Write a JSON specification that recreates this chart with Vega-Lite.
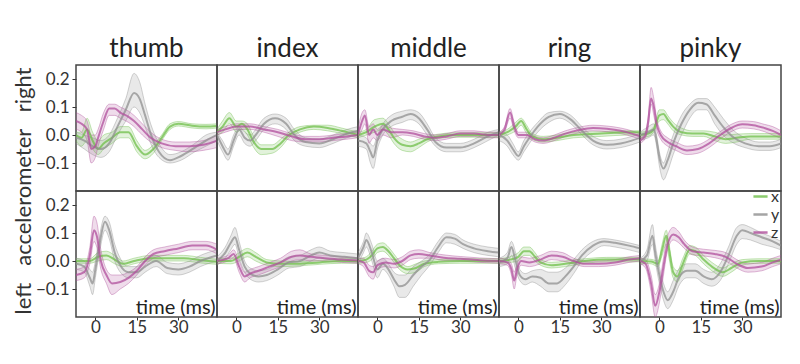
{
"$schema":"https://vega.github.io/schema/vega-lite/v6.json",
"background":"white",
"padding":{"left":12,"top":36,"right":5,"bottom":5},
"bounds":"flush",
"data":{"values":[
{"f":"thumb","r":"right","a":"x","t":-7,"l":-0.02,"v":0,"h":0.01},
{"f":"thumb","r":"right","a":"x","t":-5,"l":-0.04,"v":-0.01,"h":0.01},
{"f":"thumb","r":"right","a":"x","t":-3,"l":-0.02,"v":0.02,"h":0.06},
{"f":"thumb","r":"right","a":"x","t":-1,"l":-0.05,"v":-0.02,"h":0.01},
{"f":"thumb","r":"right","a":"x","t":1,"l":-0.07,"v":-0.05,"h":-0.02},
{"f":"thumb","r":"right","a":"x","t":3,"l":-0.05,"v":-0.03,"h":0},
{"f":"thumb","r":"right","a":"x","t":6,"l":-0.03,"v":-0.01,"h":0.01},
{"f":"thumb","r":"right","a":"x","t":9,"l":-0.01,"v":0.01,"h":0.03},
{"f":"thumb","r":"right","a":"x","t":12,"l":-0.01,"v":0.01,"h":0.03},
{"f":"thumb","r":"right","a":"x","t":15,"l":-0.06,"v":-0.04,"h":-0.02},
{"f":"thumb","r":"right","a":"x","t":18,"l":-0.085,"v":-0.07,"h":-0.055},
{"f":"thumb","r":"right","a":"x","t":21,"l":-0.065,"v":-0.05,"h":-0.035},
{"f":"thumb","r":"right","a":"x","t":24,"l":-0.02,"v":-0.01,"h":0},
{"f":"thumb","r":"right","a":"x","t":27,"l":0.02,"v":0.03,"h":0.04},
{"f":"thumb","r":"right","a":"x","t":30,"l":0.032,"v":0.04,"h":0.048},
{"f":"thumb","r":"right","a":"x","t":35,"l":0.025,"v":0.033,"h":0.04},
{"f":"thumb","r":"right","a":"x","t":40,"l":0.022,"v":0.03,"h":0.038},
{"f":"thumb","r":"right","a":"x","t":44,"l":0.025,"v":0.032,"h":0.04},
{"f":"thumb","r":"right","a":"y","t":-7,"l":-0.03,"v":-0.01,"h":0.01},
{"f":"thumb","r":"right","a":"y","t":-4,"l":-0.05,"v":-0.02,"h":0},
{"f":"thumb","r":"right","a":"y","t":-1,"l":-0.07,"v":-0.04,"h":-0.01},
{"f":"thumb","r":"right","a":"y","t":2,"l":-0.08,"v":-0.05,"h":-0.02},
{"f":"thumb","r":"right","a":"y","t":5,"l":-0.06,"v":-0.03,"h":0},
{"f":"thumb","r":"right","a":"y","t":8,"l":0,"v":0.03,"h":0.06},
{"f":"thumb","r":"right","a":"y","t":11,"l":0.05,"v":0.09,"h":0.13},
{"f":"thumb","r":"right","a":"y","t":14,"l":0.1,"v":0.15,"h":0.22},
{"f":"thumb","r":"right","a":"y","t":16,"l":0.08,"v":0.13,"h":0.19},
{"f":"thumb","r":"right","a":"y","t":18,"l":0.03,"v":0.07,"h":0.11},
{"f":"thumb","r":"right","a":"y","t":20,"l":-0.03,"v":0.005,"h":0.04},
{"f":"thumb","r":"right","a":"y","t":23,"l":-0.08,"v":-0.06,"h":-0.03},
{"f":"thumb","r":"right","a":"y","t":27,"l":-0.1,"v":-0.09,"h":-0.07},
{"f":"thumb","r":"right","a":"y","t":31,"l":-0.09,"v":-0.075,"h":-0.06},
{"f":"thumb","r":"right","a":"y","t":36,"l":-0.06,"v":-0.045,"h":-0.03},
{"f":"thumb","r":"right","a":"y","t":40,"l":-0.04,"v":-0.02,"h":0},
{"f":"thumb","r":"right","a":"y","t":44,"l":-0.02,"v":0,"h":0.01},
{"f":"thumb","r":"right","a":"z","t":-7,"l":0.02,"v":0.05,"h":0.08},
{"f":"thumb","r":"right","a":"z","t":-5,"l":0.01,"v":0.04,"h":0.07},
{"f":"thumb","r":"right","a":"z","t":-3,"l":-0.02,"v":0.02,"h":0.05},
{"f":"thumb","r":"right","a":"z","t":-1.5,"l":-0.1,"v":-0.05,"h":0},
{"f":"thumb","r":"right","a":"z","t":0,"l":-0.08,"v":-0.04,"h":0},
{"f":"thumb","r":"right","a":"z","t":1,"l":-0.04,"v":-0.01,"h":0.02},
{"f":"thumb","r":"right","a":"z","t":3,"l":0.02,"v":0.05,"h":0.08},
{"f":"thumb","r":"right","a":"z","t":5,"l":0.07,"v":0.095,"h":0.11},
{"f":"thumb","r":"right","a":"z","t":7,"l":0.07,"v":0.095,"h":0.11},
{"f":"thumb","r":"right","a":"z","t":9,"l":0.06,"v":0.08,"h":0.1},
{"f":"thumb","r":"right","a":"z","t":12,"l":0.045,"v":0.065,"h":0.085},
{"f":"thumb","r":"right","a":"z","t":14,"l":0.03,"v":0.05,"h":0.07},
{"f":"thumb","r":"right","a":"z","t":17,"l":0,"v":0.02,"h":0.04},
{"f":"thumb","r":"right","a":"z","t":20,"l":-0.025,"v":-0.01,"h":0.01},
{"f":"thumb","r":"right","a":"z","t":24,"l":-0.045,"v":-0.03,"h":-0.015},
{"f":"thumb","r":"right","a":"z","t":29,"l":-0.055,"v":-0.04,"h":-0.025},
{"f":"thumb","r":"right","a":"z","t":34,"l":-0.06,"v":-0.04,"h":-0.025},
{"f":"thumb","r":"right","a":"z","t":39,"l":-0.055,"v":-0.035,"h":-0.02},
{"f":"thumb","r":"right","a":"z","t":44,"l":-0.045,"v":-0.02,"h":0},
{"f":"index","r":"right","a":"x","t":-7,"l":0,"v":0.01,"h":0.02},
{"f":"index","r":"right","a":"x","t":-5,"l":0.01,"v":0.03,"h":0.05},
{"f":"index","r":"right","a":"x","t":-2.5,"l":0.04,"v":0.06,"h":0.08},
{"f":"index","r":"right","a":"x","t":0,"l":0.01,"v":0.03,"h":0.05},
{"f":"index","r":"right","a":"x","t":2,"l":0.02,"v":0.04,"h":0.05},
{"f":"index","r":"right","a":"x","t":4,"l":0,"v":0.02,"h":0.04},
{"f":"index","r":"right","a":"x","t":6,"l":-0.04,"v":-0.02,"h":0},
{"f":"index","r":"right","a":"x","t":9,"l":-0.07,"v":-0.05,"h":-0.035},
{"f":"index","r":"right","a":"x","t":13,"l":-0.065,"v":-0.05,"h":-0.035},
{"f":"index","r":"right","a":"x","t":16,"l":-0.045,"v":-0.03,"h":-0.015},
{"f":"index","r":"right","a":"x","t":19,"l":-0.01,"v":0,"h":0.01},
{"f":"index","r":"right","a":"x","t":23,"l":0.01,"v":0.02,"h":0.03},
{"f":"index","r":"right","a":"x","t":28,"l":0.02,"v":0.03,"h":0.035},
{"f":"index","r":"right","a":"x","t":33,"l":0.015,"v":0.025,"h":0.035},
{"f":"index","r":"right","a":"x","t":38,"l":0.005,"v":0.015,"h":0.025},
{"f":"index","r":"right","a":"x","t":44,"l":-0.01,"v":0,"h":0.01},
{"f":"index","r":"right","a":"y","t":-7,"l":-0.02,"v":0,"h":0.01},
{"f":"index","r":"right","a":"y","t":-5,"l":-0.06,"v":-0.04,"h":-0.02},
{"f":"index","r":"right","a":"y","t":-3,"l":-0.09,"v":-0.07,"h":-0.05},
{"f":"index","r":"right","a":"y","t":-1,"l":-0.04,"v":-0.02,"h":0},
{"f":"index","r":"right","a":"y","t":1,"l":0,"v":0.02,"h":0.03},
{"f":"index","r":"right","a":"y","t":3,"l":-0.03,"v":-0.01,"h":0.01},
{"f":"index","r":"right","a":"y","t":5,"l":-0.04,"v":-0.02,"h":0},
{"f":"index","r":"right","a":"y","t":7,"l":-0.02,"v":0,"h":0.02},
{"f":"index","r":"right","a":"y","t":10,"l":0.02,"v":0.04,"h":0.06},
{"f":"index","r":"right","a":"y","t":14,"l":0.04,"v":0.06,"h":0.075},
{"f":"index","r":"right","a":"y","t":18,"l":0.02,"v":0.04,"h":0.06},
{"f":"index","r":"right","a":"y","t":21,"l":-0.02,"v":0,"h":0.02},
{"f":"index","r":"right","a":"y","t":25,"l":-0.04,"v":-0.025,"h":-0.01},
{"f":"index","r":"right","a":"y","t":30,"l":-0.045,"v":-0.03,"h":-0.015},
{"f":"index","r":"right","a":"y","t":35,"l":-0.03,"v":-0.015,"h":0},
{"f":"index","r":"right","a":"y","t":40,"l":-0.01,"v":0.005,"h":0.02},
{"f":"index","r":"right","a":"y","t":44,"l":0,"v":0.015,"h":0.03},
{"f":"index","r":"right","a":"z","t":-7,"l":0,"v":0.01,"h":0.02},
{"f":"index","r":"right","a":"z","t":-4,"l":0.01,"v":0.02,"h":0.03},
{"f":"index","r":"right","a":"z","t":0,"l":0.02,"v":0.03,"h":0.04},
{"f":"index","r":"right","a":"z","t":5,"l":0.02,"v":0.03,"h":0.04},
{"f":"index","r":"right","a":"z","t":10,"l":0.01,"v":0.02,"h":0.03},
{"f":"index","r":"right","a":"z","t":15,"l":-0.005,"v":0.01,"h":0.02},
{"f":"index","r":"right","a":"z","t":20,"l":-0.02,"v":-0.005,"h":0.005},
{"f":"index","r":"right","a":"z","t":25,"l":-0.025,"v":-0.015,"h":-0.005},
{"f":"index","r":"right","a":"z","t":30,"l":-0.025,"v":-0.015,"h":-0.005},
{"f":"index","r":"right","a":"z","t":35,"l":-0.02,"v":-0.01,"h":0},
{"f":"index","r":"right","a":"z","t":40,"l":-0.015,"v":-0.005,"h":0.005},
{"f":"index","r":"right","a":"z","t":44,"l":-0.01,"v":0,"h":0.01},
{"f":"middle","r":"right","a":"x","t":-7,"l":-0.01,"v":0,"h":0.01},
{"f":"middle","r":"right","a":"x","t":-4,"l":0,"v":0.01,"h":0.02},
{"f":"middle","r":"right","a":"x","t":-1,"l":0.01,"v":0.03,"h":0.055},
{"f":"middle","r":"right","a":"x","t":2,"l":0.02,"v":0.04,"h":0.06},
{"f":"middle","r":"right","a":"x","t":4,"l":0,"v":0.02,"h":0.04},
{"f":"middle","r":"right","a":"x","t":6,"l":-0.03,"v":-0.01,"h":0.01},
{"f":"middle","r":"right","a":"x","t":9,"l":-0.055,"v":-0.035,"h":-0.015},
{"f":"middle","r":"right","a":"x","t":12,"l":-0.06,"v":-0.04,"h":-0.025},
{"f":"middle","r":"right","a":"x","t":15,"l":-0.045,"v":-0.03,"h":-0.015},
{"f":"middle","r":"right","a":"x","t":18,"l":-0.025,"v":-0.015,"h":-0.005},
{"f":"middle","r":"right","a":"x","t":22,"l":-0.012,"v":-0.005,"h":0.003},
{"f":"middle","r":"right","a":"x","t":28,"l":-0.008,"v":0,"h":0.008},
{"f":"middle","r":"right","a":"x","t":35,"l":-0.008,"v":0,"h":0.008},
{"f":"middle","r":"right","a":"x","t":44,"l":-0.008,"v":0,"h":0.008},
{"f":"middle","r":"right","a":"y","t":-7,"l":-0.04,"v":-0.02,"h":0},
{"f":"middle","r":"right","a":"y","t":-4,"l":-0.05,"v":-0.03,"h":-0.01},
{"f":"middle","r":"right","a":"y","t":-2.5,"l":-0.1,"v":-0.06,"h":-0.03},
{"f":"middle","r":"right","a":"y","t":-1.5,"l":-0.12,"v":-0.08,"h":-0.04},
{"f":"middle","r":"right","a":"y","t":0,"l":-0.05,"v":-0.02,"h":0},
{"f":"middle","r":"right","a":"y","t":2,"l":0,"v":0.02,"h":0.04},
{"f":"middle","r":"right","a":"y","t":5,"l":0.03,"v":0.05,"h":0.07},
{"f":"middle","r":"right","a":"y","t":9,"l":0.045,"v":0.065,"h":0.085},
{"f":"middle","r":"right","a":"y","t":12,"l":0.055,"v":0.075,"h":0.09},
{"f":"middle","r":"right","a":"y","t":15,"l":0.04,"v":0.06,"h":0.08},
{"f":"middle","r":"right","a":"y","t":18,"l":0,"v":0.02,"h":0.04},
{"f":"middle","r":"right","a":"y","t":21,"l":-0.04,"v":-0.025,"h":-0.01},
{"f":"middle","r":"right","a":"y","t":25,"l":-0.06,"v":-0.045,"h":-0.03},
{"f":"middle","r":"right","a":"y","t":30,"l":-0.06,"v":-0.045,"h":-0.03},
{"f":"middle","r":"right","a":"y","t":35,"l":-0.045,"v":-0.03,"h":-0.015},
{"f":"middle","r":"right","a":"y","t":40,"l":-0.02,"v":-0.005,"h":0.01},
{"f":"middle","r":"right","a":"y","t":44,"l":0,"v":0.01,"h":0.02},
{"f":"middle","r":"right","a":"z","t":-7,"l":-0.01,"v":0,"h":0.02},
{"f":"middle","r":"right","a":"z","t":-5.5,"l":0.02,"v":0.05,"h":0.08},
{"f":"middle","r":"right","a":"z","t":-4.5,"l":0.04,"v":0.07,"h":0.09},
{"f":"middle","r":"right","a":"z","t":-3,"l":-0.03,"v":0,"h":0.03},
{"f":"middle","r":"right","a":"z","t":-1.5,"l":-0.01,"v":0.02,"h":0.04},
{"f":"middle","r":"right","a":"z","t":0,"l":-0.02,"v":0,"h":0.02},
{"f":"middle","r":"right","a":"z","t":2,"l":0,"v":0.02,"h":0.035},
{"f":"middle","r":"right","a":"z","t":5,"l":-0.01,"v":0.01,"h":0.025},
{"f":"middle","r":"right","a":"z","t":9,"l":0,"v":0.01,"h":0.02},
{"f":"middle","r":"right","a":"z","t":13,"l":-0.005,"v":0.005,"h":0.015},
{"f":"middle","r":"right","a":"z","t":17,"l":-0.015,"v":-0.005,"h":0.005},
{"f":"middle","r":"right","a":"z","t":21,"l":-0.02,"v":-0.01,"h":0},
{"f":"middle","r":"right","a":"z","t":25,"l":-0.015,"v":-0.005,"h":0.005},
{"f":"middle","r":"right","a":"z","t":30,"l":-0.005,"v":0.005,"h":0.015},
{"f":"middle","r":"right","a":"z","t":35,"l":-0.005,"v":0.005,"h":0.015},
{"f":"middle","r":"right","a":"z","t":40,"l":-0.01,"v":0,"h":0.01},
{"f":"middle","r":"right","a":"z","t":44,"l":-0.01,"v":0,"h":0.01},
{"f":"ring","r":"right","a":"x","t":-7,"l":-0.01,"v":0,"h":0.01},
{"f":"ring","r":"right","a":"x","t":-4,"l":0,"v":0.01,"h":0.02},
{"f":"ring","r":"right","a":"x","t":-1,"l":0.015,"v":0.03,"h":0.045},
{"f":"ring","r":"right","a":"x","t":1,"l":0.035,"v":0.05,"h":0.06},
{"f":"ring","r":"right","a":"x","t":3,"l":0.005,"v":0.02,"h":0.035},
{"f":"ring","r":"right","a":"x","t":5,"l":-0.015,"v":-0.005,"h":0.005},
{"f":"ring","r":"right","a":"x","t":9,"l":-0.025,"v":-0.015,"h":-0.005},
{"f":"ring","r":"right","a":"x","t":14,"l":-0.02,"v":-0.01,"h":0},
{"f":"ring","r":"right","a":"x","t":20,"l":-0.01,"v":0,"h":0.01},
{"f":"ring","r":"right","a":"x","t":30,"l":-0.005,"v":0.005,"h":0.012},
{"f":"ring","r":"right","a":"x","t":40,"l":0,"v":0.01,"h":0.015},
{"f":"ring","r":"right","a":"x","t":44,"l":0,"v":0.01,"h":0.015},
{"f":"ring","r":"right","a":"y","t":-7,"l":-0.02,"v":0,"h":0.01},
{"f":"ring","r":"right","a":"y","t":-4,"l":-0.04,"v":-0.02,"h":0},
{"f":"ring","r":"right","a":"y","t":-2,"l":-0.07,"v":-0.05,"h":-0.03},
{"f":"ring","r":"right","a":"y","t":0,"l":-0.09,"v":-0.075,"h":-0.06},
{"f":"ring","r":"right","a":"y","t":2,"l":-0.06,"v":-0.04,"h":-0.02},
{"f":"ring","r":"right","a":"y","t":4,"l":-0.03,"v":-0.01,"h":0.01},
{"f":"ring","r":"right","a":"y","t":7,"l":0.01,"v":0.03,"h":0.045},
{"f":"ring","r":"right","a":"y","t":11,"l":0.045,"v":0.065,"h":0.08},
{"f":"ring","r":"right","a":"y","t":15,"l":0.06,"v":0.075,"h":0.085},
{"f":"ring","r":"right","a":"y","t":19,"l":0.04,"v":0.055,"h":0.07},
{"f":"ring","r":"right","a":"y","t":23,"l":0,"v":0.015,"h":0.03},
{"f":"ring","r":"right","a":"y","t":27,"l":-0.035,"v":-0.02,"h":-0.005},
{"f":"ring","r":"right","a":"y","t":32,"l":-0.05,"v":-0.035,"h":-0.02},
{"f":"ring","r":"right","a":"y","t":37,"l":-0.045,"v":-0.03,"h":-0.015},
{"f":"ring","r":"right","a":"y","t":41,"l":-0.035,"v":-0.02,"h":-0.005},
{"f":"ring","r":"right","a":"y","t":44,"l":-0.025,"v":-0.01,"h":0.005},
{"f":"ring","r":"right","a":"z","t":-7,"l":-0.01,"v":0,"h":0.01},
{"f":"ring","r":"right","a":"z","t":-5,"l":0.01,"v":0.02,"h":0.03},
{"f":"ring","r":"right","a":"z","t":-3,"l":0.06,"v":0.08,"h":0.095},
{"f":"ring","r":"right","a":"z","t":-1.5,"l":0.015,"v":0.03,"h":0.045},
{"f":"ring","r":"right","a":"z","t":0,"l":-0.01,"v":0,"h":0.01},
{"f":"ring","r":"right","a":"z","t":3,"l":-0.01,"v":0,"h":0.01},
{"f":"ring","r":"right","a":"z","t":6,"l":-0.025,"v":-0.015,"h":-0.005},
{"f":"ring","r":"right","a":"z","t":9,"l":-0.03,"v":-0.02,"h":-0.01},
{"f":"ring","r":"right","a":"z","t":13,"l":-0.02,"v":-0.01,"h":0},
{"f":"ring","r":"right","a":"z","t":17,"l":-0.005,"v":0.005,"h":0.015},
{"f":"ring","r":"right","a":"z","t":22,"l":0.008,"v":0.018,"h":0.028},
{"f":"ring","r":"right","a":"z","t":27,"l":0.015,"v":0.025,"h":0.035},
{"f":"ring","r":"right","a":"z","t":32,"l":0.012,"v":0.022,"h":0.032},
{"f":"ring","r":"right","a":"z","t":37,"l":0.005,"v":0.015,"h":0.025},
{"f":"ring","r":"right","a":"z","t":41,"l":-0.005,"v":0.005,"h":0.015},
{"f":"ring","r":"right","a":"z","t":44,"l":-0.015,"v":-0.005,"h":0.005},
{"f":"pinky","r":"right","a":"x","t":-7,"l":-0.01,"v":0,"h":0.01},
{"f":"pinky","r":"right","a":"x","t":-4,"l":-0.005,"v":0.005,"h":0.015},
{"f":"pinky","r":"right","a":"x","t":-2,"l":0.01,"v":0.02,"h":0.03},
{"f":"pinky","r":"right","a":"x","t":0,"l":0.05,"v":0.07,"h":0.09},
{"f":"pinky","r":"right","a":"x","t":1.5,"l":0.055,"v":0.075,"h":0.09},
{"f":"pinky","r":"right","a":"x","t":3,"l":0.04,"v":0.055,"h":0.07},
{"f":"pinky","r":"right","a":"x","t":5,"l":0.015,"v":0.03,"h":0.045},
{"f":"pinky","r":"right","a":"x","t":8,"l":0,"v":0.01,"h":0.025},
{"f":"pinky","r":"right","a":"x","t":12,"l":-0.005,"v":0.005,"h":0.015},
{"f":"pinky","r":"right","a":"x","t":16,"l":-0.005,"v":0.005,"h":0.015},
{"f":"pinky","r":"right","a":"x","t":20,"l":-0.02,"v":-0.005,"h":0.01},
{"f":"pinky","r":"right","a":"x","t":24,"l":-0.03,"v":-0.015,"h":0},
{"f":"pinky","r":"right","a":"x","t":28,"l":-0.025,"v":-0.01,"h":0.003},
{"f":"pinky","r":"right","a":"x","t":33,"l":-0.015,"v":-0.005,"h":0.005},
{"f":"pinky","r":"right","a":"x","t":38,"l":-0.015,"v":-0.005,"h":0.005},
{"f":"pinky","r":"right","a":"x","t":44,"l":-0.015,"v":-0.005,"h":0.005},
{"f":"pinky","r":"right","a":"y","t":-7,"l":-0.02,"v":0,"h":0.01},
{"f":"pinky","r":"right","a":"y","t":-4,"l":-0.01,"v":0.01,"h":0.03},
{"f":"pinky","r":"right","a":"y","t":-2,"l":0,"v":0.02,"h":0.04},
{"f":"pinky","r":"right","a":"y","t":-1,"l":-0.04,"v":-0.02,"h":0},
{"f":"pinky","r":"right","a":"y","t":0,"l":-0.11,"v":-0.08,"h":-0.06},
{"f":"pinky","r":"right","a":"y","t":1.5,"l":-0.16,"v":-0.12,"h":-0.1},
{"f":"pinky","r":"right","a":"y","t":3,"l":-0.13,"v":-0.09,"h":-0.06},
{"f":"pinky","r":"right","a":"y","t":5,"l":-0.07,"v":-0.03,"h":0},
{"f":"pinky","r":"right","a":"y","t":8,"l":0,"v":0.04,"h":0.07},
{"f":"pinky","r":"right","a":"y","t":11,"l":0.06,"v":0.09,"h":0.11},
{"f":"pinky","r":"right","a":"y","t":14,"l":0.09,"v":0.115,"h":0.13},
{"f":"pinky","r":"right","a":"y","t":17,"l":0.09,"v":0.11,"h":0.13},
{"f":"pinky","r":"right","a":"y","t":20,"l":0.04,"v":0.07,"h":0.1},
{"f":"pinky","r":"right","a":"y","t":23,"l":0,"v":0.03,"h":0.06},
{"f":"pinky","r":"right","a":"y","t":27,"l":-0.03,"v":-0.01,"h":0.015},
{"f":"pinky","r":"right","a":"y","t":31,"l":-0.045,"v":-0.03,"h":-0.01},
{"f":"pinky","r":"right","a":"y","t":36,"l":-0.055,"v":-0.04,"h":-0.025},
{"f":"pinky","r":"right","a":"y","t":40,"l":-0.055,"v":-0.04,"h":-0.025},
{"f":"pinky","r":"right","a":"y","t":44,"l":-0.045,"v":-0.03,"h":-0.015},
{"f":"pinky","r":"right","a":"z","t":-7,"l":-0.03,"v":-0.02,"h":-0.01},
{"f":"pinky","r":"right","a":"z","t":-5,"l":-0.01,"v":0,"h":0.01},
{"f":"pinky","r":"right","a":"z","t":-4,"l":0.03,"v":0.05,"h":0.07},
{"f":"pinky","r":"right","a":"z","t":-3,"l":0.11,"v":0.13,"h":0.17},
{"f":"pinky","r":"right","a":"z","t":-2,"l":0.07,"v":0.1,"h":0.13},
{"f":"pinky","r":"right","a":"z","t":-1,"l":0.02,"v":0.04,"h":0.06},
{"f":"pinky","r":"right","a":"z","t":0.5,"l":-0.015,"v":0,"h":0.015},
{"f":"pinky","r":"right","a":"z","t":3,"l":-0.04,"v":-0.025,"h":-0.01},
{"f":"pinky","r":"right","a":"z","t":6,"l":-0.055,"v":-0.04,"h":-0.025},
{"f":"pinky","r":"right","a":"z","t":10,"l":-0.07,"v":-0.055,"h":-0.04},
{"f":"pinky","r":"right","a":"z","t":14,"l":-0.065,"v":-0.05,"h":-0.035},
{"f":"pinky","r":"right","a":"z","t":18,"l":-0.045,"v":-0.03,"h":-0.015},
{"f":"pinky","r":"right","a":"z","t":22,"l":-0.015,"v":0,"h":0.012},
{"f":"pinky","r":"right","a":"z","t":26,"l":0.012,"v":0.025,"h":0.038},
{"f":"pinky","r":"right","a":"z","t":30,"l":0.025,"v":0.038,"h":0.05},
{"f":"pinky","r":"right","a":"z","t":34,"l":0.022,"v":0.035,"h":0.048},
{"f":"pinky","r":"right","a":"z","t":38,"l":0.012,"v":0.025,"h":0.038},
{"f":"pinky","r":"right","a":"z","t":41,"l":0,"v":0.015,"h":0.03},
{"f":"pinky","r":"right","a":"z","t":44,"l":-0.012,"v":0,"h":0.015},
{"f":"thumb","r":"left","a":"x","t":-7,"l":-0.008,"v":0,"h":0.008},
{"f":"thumb","r":"left","a":"x","t":-2,"l":-0.008,"v":0,"h":0.008},
{"f":"thumb","r":"left","a":"x","t":1,"l":0,"v":0.015,"h":0.03},
{"f":"thumb","r":"left","a":"x","t":4,"l":0.005,"v":0.02,"h":0.035},
{"f":"thumb","r":"left","a":"x","t":7,"l":-0.01,"v":0.005,"h":0.02},
{"f":"thumb","r":"left","a":"x","t":10,"l":-0.02,"v":-0.01,"h":0},
{"f":"thumb","r":"left","a":"x","t":14,"l":-0.01,"v":0,"h":0.01},
{"f":"thumb","r":"left","a":"x","t":20,"l":0,"v":0.01,"h":0.02},
{"f":"thumb","r":"left","a":"x","t":26,"l":0,"v":0.01,"h":0.02},
{"f":"thumb","r":"left","a":"x","t":32,"l":0,"v":0.01,"h":0.02},
{"f":"thumb","r":"left","a":"x","t":38,"l":-0.007,"v":0.003,"h":0.013},
{"f":"thumb","r":"left","a":"x","t":44,"l":-0.012,"v":-0.003,"h":0.006},
{"f":"thumb","r":"left","a":"y","t":-7,"l":-0.03,"v":-0.01,"h":0.01},
{"f":"thumb","r":"left","a":"y","t":-4,"l":-0.04,"v":-0.02,"h":0},
{"f":"thumb","r":"left","a":"y","t":-2,"l":-0.09,"v":-0.06,"h":-0.03},
{"f":"thumb","r":"left","a":"y","t":-1,"l":-0.12,"v":-0.08,"h":-0.04},
{"f":"thumb","r":"left","a":"y","t":0,"l":-0.06,"v":-0.03,"h":0},
{"f":"thumb","r":"left","a":"y","t":1.5,"l":0.03,"v":0.06,"h":0.09},
{"f":"thumb","r":"left","a":"y","t":3.5,"l":0.11,"v":0.14,"h":0.16},
{"f":"thumb","r":"left","a":"y","t":5,"l":0.08,"v":0.11,"h":0.14},
{"f":"thumb","r":"left","a":"y","t":7,"l":0,"v":0.03,"h":0.06},
{"f":"thumb","r":"left","a":"y","t":9,"l":-0.04,"v":-0.015,"h":0.01},
{"f":"thumb","r":"left","a":"y","t":12,"l":-0.06,"v":-0.04,"h":-0.02},
{"f":"thumb","r":"left","a":"y","t":15,"l":-0.06,"v":-0.04,"h":-0.02},
{"f":"thumb","r":"left","a":"y","t":18,"l":-0.04,"v":-0.02,"h":0},
{"f":"thumb","r":"left","a":"y","t":22,"l":-0.02,"v":0,"h":0.02},
{"f":"thumb","r":"left","a":"y","t":26,"l":-0.045,"v":-0.025,"h":-0.005},
{"f":"thumb","r":"left","a":"y","t":30,"l":-0.05,"v":-0.03,"h":-0.01},
{"f":"thumb","r":"left","a":"y","t":34,"l":-0.04,"v":-0.02,"h":0},
{"f":"thumb","r":"left","a":"y","t":38,"l":-0.02,"v":0,"h":0.02},
{"f":"thumb","r":"left","a":"y","t":44,"l":0,"v":0.02,"h":0.04},
{"f":"thumb","r":"left","a":"z","t":-7,"l":-0.07,"v":-0.05,"h":-0.03},
{"f":"thumb","r":"left","a":"z","t":-4,"l":-0.06,"v":-0.04,"h":-0.02},
{"f":"thumb","r":"left","a":"z","t":-2,"l":-0.01,"v":0.02,"h":0.05},
{"f":"thumb","r":"left","a":"z","t":-0.5,"l":0.07,"v":0.11,"h":0.16},
{"f":"thumb","r":"left","a":"z","t":0.5,"l":0.05,"v":0.09,"h":0.14},
{"f":"thumb","r":"left","a":"z","t":2,"l":-0.03,"v":0,"h":0.04},
{"f":"thumb","r":"left","a":"z","t":4,"l":-0.08,"v":-0.05,"h":-0.03},
{"f":"thumb","r":"left","a":"z","t":6,"l":-0.12,"v":-0.08,"h":-0.05},
{"f":"thumb","r":"left","a":"z","t":9,"l":-0.1,"v":-0.075,"h":-0.05},
{"f":"thumb","r":"left","a":"z","t":12,"l":-0.08,"v":-0.06,"h":-0.04},
{"f":"thumb","r":"left","a":"z","t":15,"l":-0.05,"v":-0.035,"h":-0.02},
{"f":"thumb","r":"left","a":"z","t":18,"l":-0.015,"v":0,"h":0.015},
{"f":"thumb","r":"left","a":"z","t":21,"l":0.01,"v":0.025,"h":0.04},
{"f":"thumb","r":"left","a":"z","t":25,"l":0.02,"v":0.035,"h":0.05},
{"f":"thumb","r":"left","a":"z","t":30,"l":0.03,"v":0.045,"h":0.06},
{"f":"thumb","r":"left","a":"z","t":35,"l":0.04,"v":0.055,"h":0.07},
{"f":"thumb","r":"left","a":"z","t":40,"l":0.04,"v":0.055,"h":0.07},
{"f":"thumb","r":"left","a":"z","t":44,"l":0.025,"v":0.04,"h":0.06},
{"f":"index","r":"left","a":"x","t":-7,"l":-0.008,"v":0,"h":0.008},
{"f":"index","r":"left","a":"x","t":-2,"l":-0.01,"v":0,"h":0.01},
{"f":"index","r":"left","a":"x","t":1,"l":0,"v":0.015,"h":0.03},
{"f":"index","r":"left","a":"x","t":4,"l":0.015,"v":0.03,"h":0.045},
{"f":"index","r":"left","a":"x","t":7,"l":0,"v":0.015,"h":0.03},
{"f":"index","r":"left","a":"x","t":11,"l":-0.015,"v":-0.005,"h":0.005},
{"f":"index","r":"left","a":"x","t":16,"l":-0.02,"v":-0.01,"h":0},
{"f":"index","r":"left","a":"x","t":22,"l":-0.018,"v":-0.01,"h":-0.002},
{"f":"index","r":"left","a":"x","t":30,"l":-0.012,"v":-0.005,"h":0.002},
{"f":"index","r":"left","a":"x","t":38,"l":-0.008,"v":0,"h":0.008},
{"f":"index","r":"left","a":"x","t":44,"l":-0.008,"v":0,"h":0.008},
{"f":"index","r":"left","a":"y","t":-7,"l":-0.015,"v":0,"h":0.015},
{"f":"index","r":"left","a":"y","t":-4,"l":0.01,"v":0.03,"h":0.05},
{"f":"index","r":"left","a":"y","t":-2,"l":0.04,"v":0.065,"h":0.09},
{"f":"index","r":"left","a":"y","t":-0.5,"l":0.06,"v":0.085,"h":0.12},
{"f":"index","r":"left","a":"y","t":1,"l":0.01,"v":0.04,"h":0.07},
{"f":"index","r":"left","a":"y","t":3,"l":-0.04,"v":-0.02,"h":0},
{"f":"index","r":"left","a":"y","t":5,"l":-0.065,"v":-0.045,"h":-0.025},
{"f":"index","r":"left","a":"y","t":8,"l":-0.075,"v":-0.055,"h":-0.035},
{"f":"index","r":"left","a":"y","t":11,"l":-0.07,"v":-0.05,"h":-0.03},
{"f":"index","r":"left","a":"y","t":15,"l":-0.05,"v":-0.03,"h":-0.01},
{"f":"index","r":"left","a":"y","t":19,"l":-0.025,"v":-0.005,"h":0.015},
{"f":"index","r":"left","a":"y","t":23,"l":-0.02,"v":0,"h":0.02},
{"f":"index","r":"left","a":"y","t":27,"l":0,"v":0.02,"h":0.04},
{"f":"index","r":"left","a":"y","t":30,"l":0.01,"v":0.03,"h":0.05},
{"f":"index","r":"left","a":"y","t":34,"l":0.005,"v":0.02,"h":0.035},
{"f":"index","r":"left","a":"y","t":39,"l":0,"v":0.015,"h":0.03},
{"f":"index","r":"left","a":"y","t":44,"l":-0.005,"v":0.01,"h":0.025},
{"f":"index","r":"left","a":"z","t":-7,"l":-0.01,"v":0,"h":0.01},
{"f":"index","r":"left","a":"z","t":-3,"l":0,"v":0.01,"h":0.02},
{"f":"index","r":"left","a":"z","t":-1,"l":0.01,"v":0.025,"h":0.04},
{"f":"index","r":"left","a":"z","t":1,"l":-0.04,"v":-0.02,"h":0},
{"f":"index","r":"left","a":"z","t":3,"l":-0.075,"v":-0.055,"h":-0.04},
{"f":"index","r":"left","a":"z","t":5,"l":-0.06,"v":-0.045,"h":-0.03},
{"f":"index","r":"left","a":"z","t":8,"l":-0.05,"v":-0.035,"h":-0.02},
{"f":"index","r":"left","a":"z","t":12,"l":-0.035,"v":-0.02,"h":-0.005},
{"f":"index","r":"left","a":"z","t":16,"l":-0.02,"v":-0.005,"h":0.01},
{"f":"index","r":"left","a":"z","t":20,"l":0,"v":0.015,"h":0.035},
{"f":"index","r":"left","a":"z","t":23,"l":0.005,"v":0.02,"h":0.04},
{"f":"index","r":"left","a":"z","t":27,"l":0,"v":0.015,"h":0.025},
{"f":"index","r":"left","a":"z","t":32,"l":0,"v":0.01,"h":0.02},
{"f":"index","r":"left","a":"z","t":38,"l":-0.005,"v":0.005,"h":0.015},
{"f":"index","r":"left","a":"z","t":44,"l":-0.008,"v":0.002,"h":0.012},
{"f":"middle","r":"left","a":"x","t":-7,"l":-0.008,"v":0,"h":0.008},
{"f":"middle","r":"left","a":"x","t":-4,"l":-0.005,"v":0.005,"h":0.015},
{"f":"middle","r":"left","a":"x","t":-2,"l":0.005,"v":0.02,"h":0.035},
{"f":"middle","r":"left","a":"x","t":0,"l":0.03,"v":0.045,"h":0.06},
{"f":"middle","r":"left","a":"x","t":2,"l":0.035,"v":0.05,"h":0.065},
{"f":"middle","r":"left","a":"x","t":4,"l":0.02,"v":0.035,"h":0.05},
{"f":"middle","r":"left","a":"x","t":6,"l":-0.005,"v":0.01,"h":0.025},
{"f":"middle","r":"left","a":"x","t":8,"l":-0.03,"v":-0.015,"h":0},
{"f":"middle","r":"left","a":"x","t":11,"l":-0.045,"v":-0.03,"h":-0.02},
{"f":"middle","r":"left","a":"x","t":14,"l":-0.04,"v":-0.025,"h":-0.01},
{"f":"middle","r":"left","a":"x","t":17,"l":-0.02,"v":-0.01,"h":0},
{"f":"middle","r":"left","a":"x","t":22,"l":-0.01,"v":-0.003,"h":0.005},
{"f":"middle","r":"left","a":"x","t":30,"l":-0.008,"v":0,"h":0.008},
{"f":"middle","r":"left","a":"x","t":44,"l":-0.008,"v":0,"h":0.008},
{"f":"middle","r":"left","a":"y","t":-7,"l":-0.01,"v":0.01,"h":0.03},
{"f":"middle","r":"left","a":"y","t":-5,"l":0.03,"v":0.05,"h":0.07},
{"f":"middle","r":"left","a":"y","t":-4,"l":0.05,"v":0.075,"h":0.1},
{"f":"middle","r":"left","a":"y","t":-2,"l":0,"v":0.03,"h":0.06},
{"f":"middle","r":"left","a":"y","t":0,"l":-0.06,"v":-0.03,"h":0},
{"f":"middle","r":"left","a":"y","t":2,"l":-0.03,"v":-0.01,"h":0.01},
{"f":"middle","r":"left","a":"y","t":4,"l":-0.05,"v":-0.03,"h":-0.01},
{"f":"middle","r":"left","a":"y","t":6,"l":-0.09,"v":-0.065,"h":-0.04},
{"f":"middle","r":"left","a":"y","t":8,"l":-0.13,"v":-0.09,"h":-0.05},
{"f":"middle","r":"left","a":"y","t":10,"l":-0.13,"v":-0.085,"h":-0.05},
{"f":"middle","r":"left","a":"y","t":13,"l":-0.09,"v":-0.05,"h":-0.02},
{"f":"middle","r":"left","a":"y","t":16,"l":-0.05,"v":-0.02,"h":0},
{"f":"middle","r":"left","a":"y","t":19,"l":-0.015,"v":0.005,"h":0.025},
{"f":"middle","r":"left","a":"y","t":22,"l":0.03,"v":0.05,"h":0.07},
{"f":"middle","r":"left","a":"y","t":25,"l":0.065,"v":0.085,"h":0.1},
{"f":"middle","r":"left","a":"y","t":28,"l":0.06,"v":0.08,"h":0.095},
{"f":"middle","r":"left","a":"y","t":31,"l":0.045,"v":0.06,"h":0.075},
{"f":"middle","r":"left","a":"y","t":35,"l":0.03,"v":0.045,"h":0.06},
{"f":"middle","r":"left","a":"y","t":40,"l":0.02,"v":0.035,"h":0.05},
{"f":"middle","r":"left","a":"y","t":44,"l":0.015,"v":0.03,"h":0.045},
{"f":"middle","r":"left","a":"z","t":-7,"l":-0.01,"v":0,"h":0.01},
{"f":"middle","r":"left","a":"z","t":-5,"l":-0.02,"v":-0.005,"h":0.01},
{"f":"middle","r":"left","a":"z","t":-3,"l":-0.055,"v":-0.035,"h":-0.015},
{"f":"middle","r":"left","a":"z","t":-1.5,"l":-0.065,"v":-0.04,"h":-0.02},
{"f":"middle","r":"left","a":"z","t":0,"l":-0.03,"v":-0.015,"h":0},
{"f":"middle","r":"left","a":"z","t":3,"l":-0.02,"v":-0.005,"h":0.01},
{"f":"middle","r":"left","a":"z","t":6,"l":-0.025,"v":-0.01,"h":0.005},
{"f":"middle","r":"left","a":"z","t":9,"l":-0.015,"v":0,"h":0.015},
{"f":"middle","r":"left","a":"z","t":12,"l":0.005,"v":0.02,"h":0.035},
{"f":"middle","r":"left","a":"z","t":15,"l":0.01,"v":0.025,"h":0.04},
{"f":"middle","r":"left","a":"z","t":19,"l":0.01,"v":0.02,"h":0.03},
{"f":"middle","r":"left","a":"z","t":24,"l":0.002,"v":0.012,"h":0.022},
{"f":"middle","r":"left","a":"z","t":30,"l":0,"v":0.008,"h":0.016},
{"f":"middle","r":"left","a":"z","t":37,"l":-0.005,"v":0.003,"h":0.011},
{"f":"middle","r":"left","a":"z","t":44,"l":-0.008,"v":0,"h":0.008},
{"f":"ring","r":"left","a":"x","t":-7,"l":-0.008,"v":0,"h":0.008},
{"f":"ring","r":"left","a":"x","t":-3,"l":-0.005,"v":0.005,"h":0.015},
{"f":"ring","r":"left","a":"x","t":0,"l":0,"v":0.015,"h":0.03},
{"f":"ring","r":"left","a":"x","t":2,"l":0.02,"v":0.035,"h":0.05},
{"f":"ring","r":"left","a":"x","t":4,"l":0.02,"v":0.035,"h":0.05},
{"f":"ring","r":"left","a":"x","t":6,"l":0,"v":0.015,"h":0.03},
{"f":"ring","r":"left","a":"x","t":8,"l":-0.015,"v":-0.005,"h":0.005},
{"f":"ring","r":"left","a":"x","t":12,"l":-0.025,"v":-0.015,"h":-0.005},
{"f":"ring","r":"left","a":"x","t":17,"l":-0.02,"v":-0.01,"h":0},
{"f":"ring","r":"left","a":"x","t":24,"l":-0.008,"v":0,"h":0.008},
{"f":"ring","r":"left","a":"x","t":32,"l":-0.003,"v":0.005,"h":0.013},
{"f":"ring","r":"left","a":"x","t":44,"l":-0.003,"v":0.005,"h":0.013},
{"f":"ring","r":"left","a":"y","t":-7,"l":-0.02,"v":-0.005,"h":0.01},
{"f":"ring","r":"left","a":"y","t":-4,"l":-0.01,"v":0.01,"h":0.03},
{"f":"ring","r":"left","a":"y","t":-2.5,"l":0.02,"v":0.05,"h":0.07},
{"f":"ring","r":"left","a":"y","t":-1,"l":-0.03,"v":0,"h":0.03},
{"f":"ring","r":"left","a":"y","t":0.5,"l":-0.07,"v":-0.05,"h":-0.03},
{"f":"ring","r":"left","a":"y","t":2.5,"l":-0.085,"v":-0.065,"h":-0.045},
{"f":"ring","r":"left","a":"y","t":5,"l":-0.075,"v":-0.055,"h":-0.035},
{"f":"ring","r":"left","a":"y","t":8,"l":-0.09,"v":-0.06,"h":-0.03},
{"f":"ring","r":"left","a":"y","t":11,"l":-0.11,"v":-0.08,"h":-0.04},
{"f":"ring","r":"left","a":"y","t":14,"l":-0.11,"v":-0.08,"h":-0.04},
{"f":"ring","r":"left","a":"y","t":17,"l":-0.085,"v":-0.055,"h":-0.025},
{"f":"ring","r":"left","a":"y","t":20,"l":-0.045,"v":-0.02,"h":0.005},
{"f":"ring","r":"left","a":"y","t":23,"l":0,"v":0.02,"h":0.04},
{"f":"ring","r":"left","a":"y","t":27,"l":0.035,"v":0.055,"h":0.07},
{"f":"ring","r":"left","a":"y","t":31,"l":0.055,"v":0.07,"h":0.08},
{"f":"ring","r":"left","a":"y","t":35,"l":0.05,"v":0.065,"h":0.075},
{"f":"ring","r":"left","a":"y","t":40,"l":0.04,"v":0.055,"h":0.065},
{"f":"ring","r":"left","a":"y","t":44,"l":0.03,"v":0.045,"h":0.055},
{"f":"ring","r":"left","a":"z","t":-7,"l":-0.01,"v":0,"h":0.01},
{"f":"ring","r":"left","a":"z","t":-4,"l":-0.015,"v":-0.005,"h":0.005},
{"f":"ring","r":"left","a":"z","t":-2.5,"l":-0.05,"v":-0.03,"h":-0.01},
{"f":"ring","r":"left","a":"z","t":-1.5,"l":-0.1,"v":-0.07,"h":-0.04},
{"f":"ring","r":"left","a":"z","t":-0.5,"l":-0.05,"v":-0.03,"h":-0.01},
{"f":"ring","r":"left","a":"z","t":1,"l":-0.015,"v":0,"h":0.015},
{"f":"ring","r":"left","a":"z","t":4,"l":-0.02,"v":-0.005,"h":0.01},
{"f":"ring","r":"left","a":"z","t":8,"l":-0.01,"v":0.005,"h":0.02},
{"f":"ring","r":"left","a":"z","t":12,"l":0.005,"v":0.02,"h":0.035},
{"f":"ring","r":"left","a":"z","t":16,"l":0,"v":0.015,"h":0.03},
{"f":"ring","r":"left","a":"z","t":20,"l":-0.01,"v":0,"h":0.01},
{"f":"ring","r":"left","a":"z","t":24,"l":-0.02,"v":-0.01,"h":0},
{"f":"ring","r":"left","a":"z","t":29,"l":-0.02,"v":-0.01,"h":0},
{"f":"ring","r":"left","a":"z","t":35,"l":-0.015,"v":-0.005,"h":0.005},
{"f":"ring","r":"left","a":"z","t":40,"l":-0.005,"v":0.005,"h":0.015},
{"f":"ring","r":"left","a":"z","t":44,"l":0,"v":0.01,"h":0.02},
{"f":"pinky","r":"left","a":"x","t":-7,"l":-0.008,"v":0,"h":0.008},
{"f":"pinky","r":"left","a":"x","t":-3,"l":-0.01,"v":-0.002,"h":0.006},
{"f":"pinky","r":"left","a":"x","t":-0.5,"l":-0.02,"v":-0.01,"h":0},
{"f":"pinky","r":"left","a":"x","t":1,"l":0.02,"v":0.04,"h":0.06},
{"f":"pinky","r":"left","a":"x","t":2.5,"l":0.06,"v":0.09,"h":0.11},
{"f":"pinky","r":"left","a":"x","t":3.5,"l":0.01,"v":0.04,"h":0.06},
{"f":"pinky","r":"left","a":"x","t":5,"l":-0.06,"v":-0.04,"h":-0.02},
{"f":"pinky","r":"left","a":"x","t":6.5,"l":-0.075,"v":-0.055,"h":-0.035},
{"f":"pinky","r":"left","a":"x","t":8.5,"l":-0.03,"v":-0.01,"h":0.01},
{"f":"pinky","r":"left","a":"x","t":11,"l":0.025,"v":0.04,"h":0.055},
{"f":"pinky","r":"left","a":"x","t":13,"l":0.02,"v":0.035,"h":0.05},
{"f":"pinky","r":"left","a":"x","t":16,"l":-0.01,"v":0.005,"h":0.02},
{"f":"pinky","r":"left","a":"x","t":19,"l":-0.035,"v":-0.02,"h":-0.005},
{"f":"pinky","r":"left","a":"x","t":23,"l":-0.055,"v":-0.04,"h":-0.025},
{"f":"pinky","r":"left","a":"x","t":26,"l":-0.04,"v":-0.025,"h":-0.01},
{"f":"pinky","r":"left","a":"x","t":30,"l":-0.015,"v":-0.005,"h":0.005},
{"f":"pinky","r":"left","a":"x","t":36,"l":-0.008,"v":0,"h":0.008},
{"f":"pinky","r":"left","a":"x","t":44,"l":-0.008,"v":0,"h":0.008},
{"f":"pinky","r":"left","a":"y","t":-7,"l":-0.015,"v":0,"h":0.01},
{"f":"pinky","r":"left","a":"y","t":-4.5,"l":0,"v":0.02,"h":0.04},
{"f":"pinky","r":"left","a":"y","t":-2.5,"l":0.06,"v":0.09,"h":0.13},
{"f":"pinky","r":"left","a":"y","t":-1.5,"l":0,"v":0.03,"h":0.06},
{"f":"pinky","r":"left","a":"y","t":0,"l":-0.08,"v":-0.05,"h":-0.02},
{"f":"pinky","r":"left","a":"y","t":1.5,"l":-0.14,"v":-0.11,"h":-0.08},
{"f":"pinky","r":"left","a":"y","t":3,"l":-0.17,"v":-0.14,"h":-0.11},
{"f":"pinky","r":"left","a":"y","t":5,"l":-0.14,"v":-0.11,"h":-0.07},
{"f":"pinky","r":"left","a":"y","t":7,"l":-0.09,"v":-0.06,"h":-0.03},
{"f":"pinky","r":"left","a":"y","t":10,"l":-0.06,"v":-0.035,"h":-0.01},
{"f":"pinky","r":"left","a":"y","t":13,"l":-0.06,"v":-0.035,"h":-0.01},
{"f":"pinky","r":"left","a":"y","t":16,"l":-0.08,"v":-0.055,"h":-0.03},
{"f":"pinky","r":"left","a":"y","t":19,"l":-0.09,"v":-0.065,"h":-0.04},
{"f":"pinky","r":"left","a":"y","t":22,"l":-0.07,"v":-0.04,"h":-0.01},
{"f":"pinky","r":"left","a":"y","t":25,"l":-0.01,"v":0.02,"h":0.05},
{"f":"pinky","r":"left","a":"y","t":28,"l":0.06,"v":0.09,"h":0.12},
{"f":"pinky","r":"left","a":"y","t":30,"l":0.08,"v":0.11,"h":0.13},
{"f":"pinky","r":"left","a":"y","t":33,"l":0.075,"v":0.1,"h":0.12},
{"f":"pinky","r":"left","a":"y","t":37,"l":0.06,"v":0.085,"h":0.1},
{"f":"pinky","r":"left","a":"y","t":41,"l":0.05,"v":0.07,"h":0.085},
{"f":"pinky","r":"left","a":"y","t":44,"l":0.04,"v":0.055,"h":0.07},
{"f":"pinky","r":"left","a":"z","t":-7,"l":-0.01,"v":0,"h":0.01},
{"f":"pinky","r":"left","a":"z","t":-5,"l":-0.025,"v":-0.01,"h":0.005},
{"f":"pinky","r":"left","a":"z","t":-3,"l":-0.11,"v":-0.08,"h":-0.05},
{"f":"pinky","r":"left","a":"z","t":-1.5,"l":-0.2,"v":-0.16,"h":-0.12},
{"f":"pinky","r":"left","a":"z","t":0,"l":-0.15,"v":-0.11,"h":-0.08},
{"f":"pinky","r":"left","a":"z","t":1.5,"l":-0.05,"v":-0.02,"h":0.01},
{"f":"pinky","r":"left","a":"z","t":3,"l":0.04,"v":0.06,"h":0.09},
{"f":"pinky","r":"left","a":"z","t":5,"l":0.075,"v":0.095,"h":0.12},
{"f":"pinky","r":"left","a":"z","t":7,"l":0.065,"v":0.085,"h":0.105},
{"f":"pinky","r":"left","a":"z","t":9,"l":0.045,"v":0.06,"h":0.075},
{"f":"pinky","r":"left","a":"z","t":12,"l":0.022,"v":0.035,"h":0.05},
{"f":"pinky","r":"left","a":"z","t":16,"l":0.018,"v":0.03,"h":0.042},
{"f":"pinky","r":"left","a":"z","t":20,"l":0.012,"v":0.025,"h":0.038},
{"f":"pinky","r":"left","a":"z","t":24,"l":0,"v":0.015,"h":0.03},
{"f":"pinky","r":"left","a":"z","t":28,"l":-0.025,"v":-0.01,"h":0.005},
{"f":"pinky","r":"left","a":"z","t":32,"l":-0.04,"v":-0.025,"h":-0.01},
{"f":"pinky","r":"left","a":"z","t":37,"l":-0.035,"v":-0.02,"h":-0.005},
{"f":"pinky","r":"left","a":"z","t":41,"l":-0.02,"v":-0.005,"h":0.01},
{"f":"pinky","r":"left","a":"z","t":44,"l":-0.01,"v":0.005,"h":0.02}
]},
"spacing":0,
"facet":{
 "column":{"field":"f","type":"nominal","sort":["thumb","index","middle","ring","pinky"],"title":null,"header":{"labelFontSize":26,"labelFont":"Lato","labelColor":"#222","labelPadding":3}},
 "row":{"field":"r","type":"nominal","sort":["right","left"],"title":"left\u00a0\u00a0\u00a0accelerometer\u00a0\u00a0\u00a0right","header":{"labels":false,"titleFontSize":22,"titleFont":"Lato","titleFontWeight":"normal","titleColor":"#333","titlePadding":-11}}
},
"spec":{
 "width":141,"height":126,
 "encoding":{
  "x":{"field":"t","type":"quantitative","scale":{"domain":[-7,44],"nice":false,"zero":false},"axis":{"values":[0,15,30],"tickSize":3,"labelPadding":-1,"title":"time (ms)","titleX":139,"titleY":-4,"titleAlign":"right","titleBaseline":"alphabetic","titleFontSize":20,"titleFont":"Lato","titleFontWeight":"normal","titleColor":"#222"}},
  "color":{"field":"a","type":"nominal","scale":{"domain":["x","y","z"],"range":["#6fbf4a","#8f8f8f","#b04f9c"]},"legend":{"title":null,"orient":"none","legendX":676,"legendY":123,"symbolType":"stroke","symbolSize":200,"symbolStrokeWidth":2.5,"symbolOpacity":0.8,"labelFont":"Lato","labelFontSize":16,"labelColor":"#333","rowPadding":1,"labelOffset":2}}
 },
 "layer":[
  {"mark":{"type":"area","interpolate":"monotone","opacity":0.2,"clip":true},"encoding":{"y":{"field":"l","type":"quantitative","stack":null,"scale":{"domain":[-0.2,0.25],"nice":false,"zero":false},"axis":{"values":[-0.1,0,0.1,0.2],"format":".1f","title":null}},"y2":{"field":"h"}}},
  {"transform":[{"fold":["l","h"],"as":["k","val"]}],"mark":{"type":"line","interpolate":"monotone","strokeWidth":1,"opacity":0.4,"clip":true},"encoding":{"y":{"field":"val","type":"quantitative","title":null},"detail":{"field":"k"}}},
  {"mark":{"type":"line","interpolate":"monotone","strokeWidth":2,"opacity":0.75,"clip":true},"encoding":{"y":{"field":"v","type":"quantitative","title":null}}}
 ]
},
"config":{
 "view":{"stroke":"#444","strokeWidth":1.5},
 "axis":{"grid":false,"domain":false,"labelFont":"Lato","labelFontSize":17,"labelColor":"#333","tickColor":"#333","tickSize":4},
 "axisY":{"labelPadding":3}
}
}
